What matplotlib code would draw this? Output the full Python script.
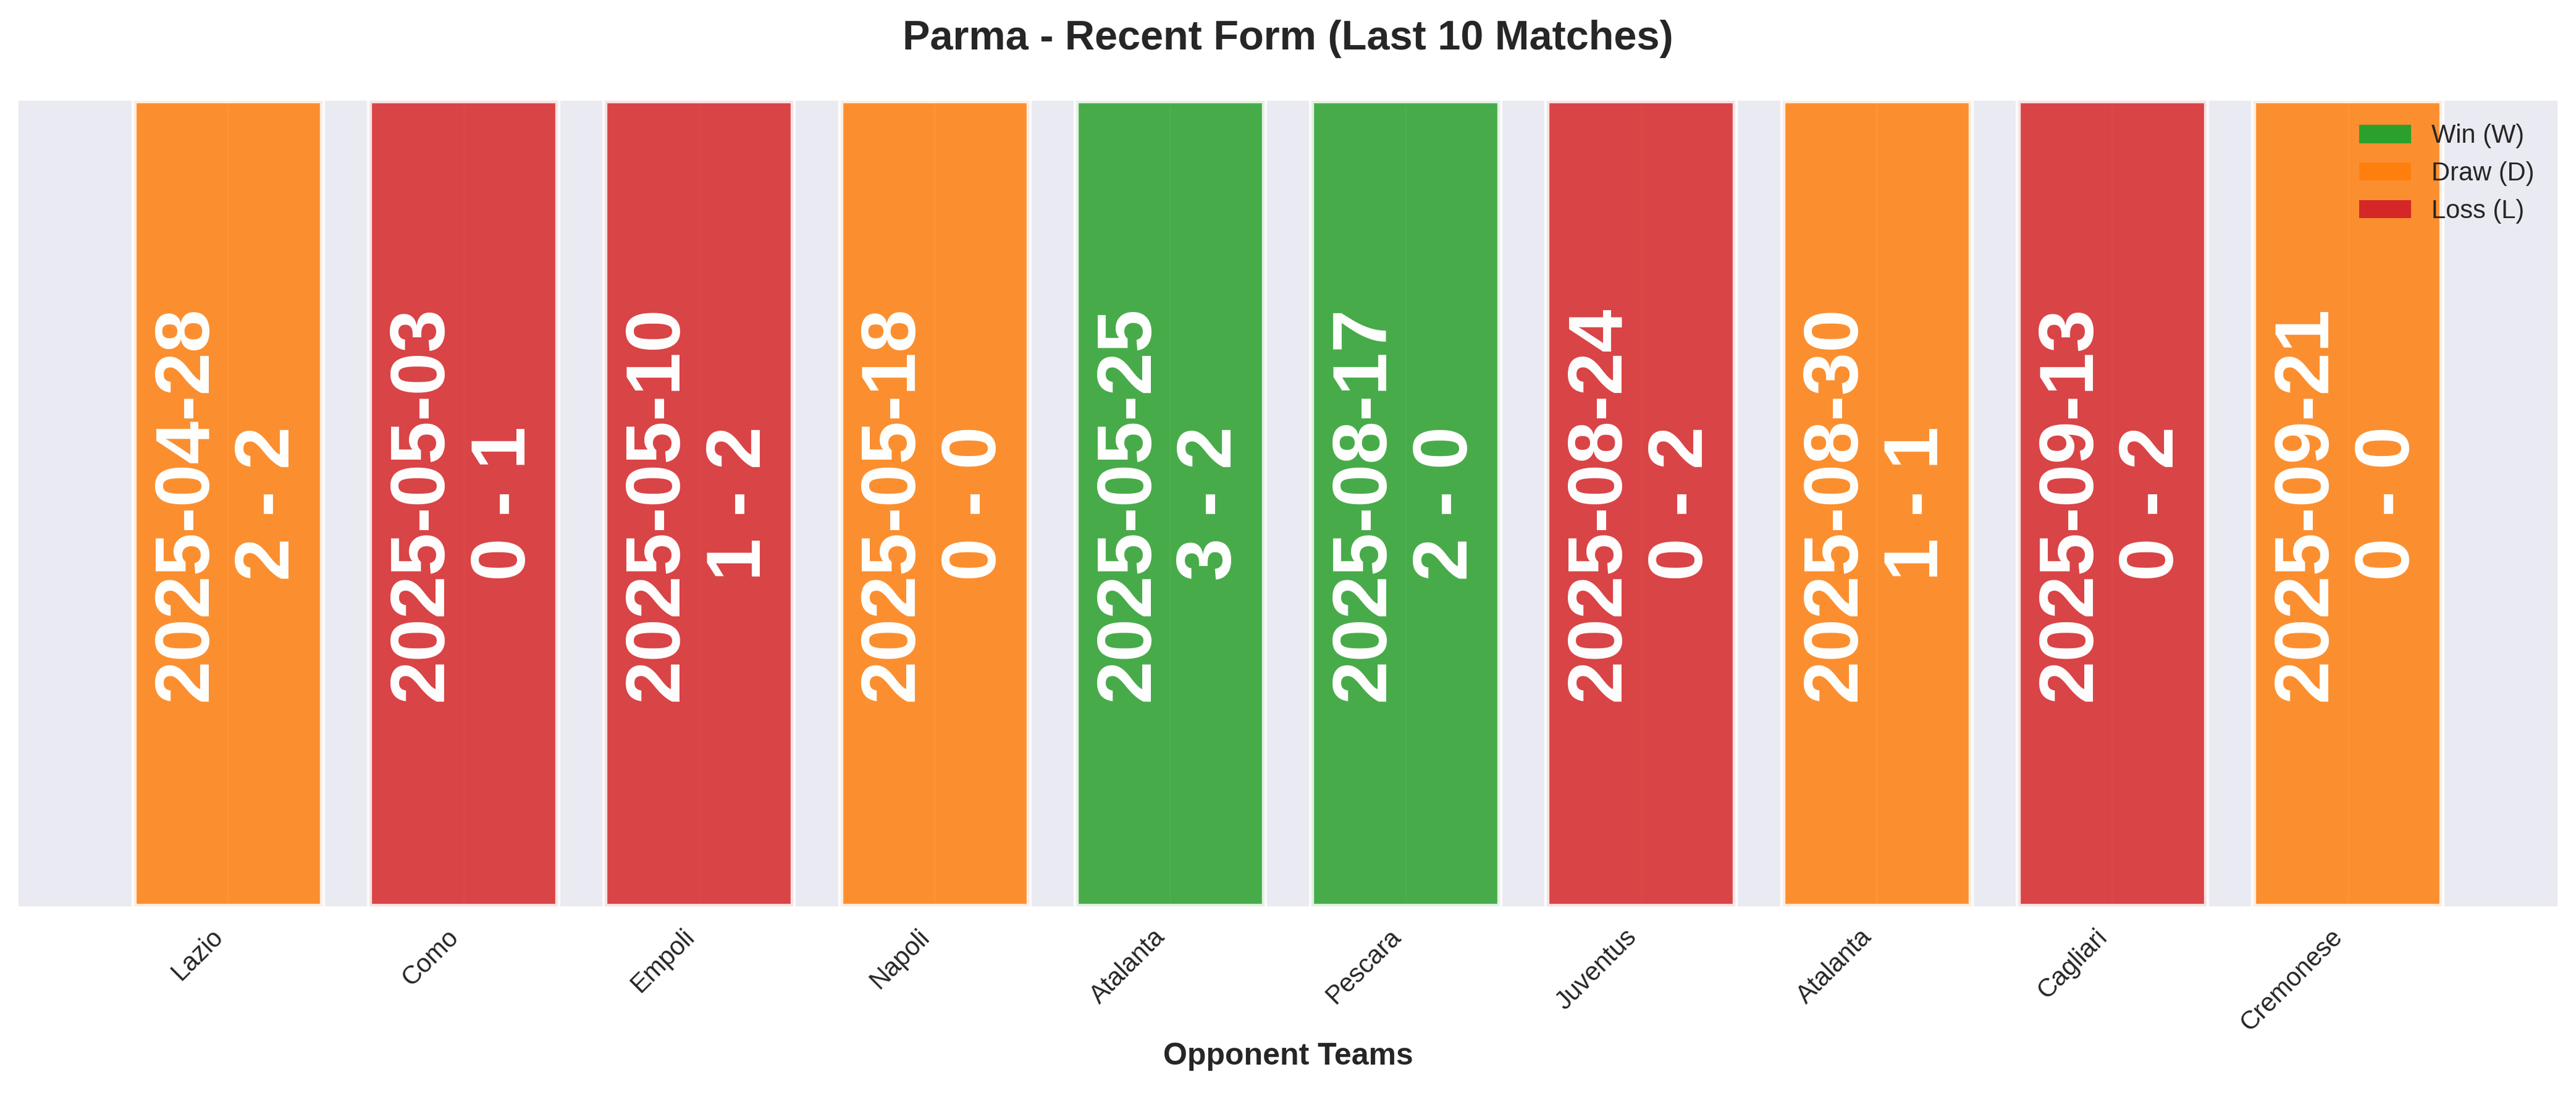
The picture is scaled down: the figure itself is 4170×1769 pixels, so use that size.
import matplotlib
matplotlib.use("Agg")
import matplotlib.pyplot as plt
from matplotlib.patches import Patch

# ---- data ----
opponents = ["Lazio", "Como", "Empoli", "Napoli", "Atalanta",
             "Pescara", "Juventus", "Atalanta", "Cagliari", "Cremonese"]
dates = ["2025-04-28", "2025-05-03", "2025-05-10", "2025-05-18", "2025-05-25",
         "2025-08-17", "2025-08-24", "2025-08-30", "2025-09-13", "2025-09-21"]
scores = ["2 - 2", "0 - 1", "1 - 2", "0 - 0", "3 - 2",
          "2 - 0", "0 - 2", "1 - 1", "0 - 2", "0 - 0"]
results = ["D", "L", "L", "D", "W", "W", "L", "D", "L", "D"]
result_colors = {"W": "#2ca02c", "D": "#ff7f0e", "L": "#d62728"}
legend_labels = {"W": "Win (W)", "D": "Draw (D)", "L": "Loss (L)"}

plt.style.use("seaborn-v0_8-darkgrid")
plt.rcParams["font.family"] = ["Liberation Sans", "DejaVu Sans"]

fig = plt.figure(figsize=(4170 / 300, 1769 / 300), dpi=300)
W, H = 4170, 1769
ax = fig.add_axes([30 / W, (H - 1467) / H, (4140 - 30) / W, (1467 - 163) / H])

x = list(range(len(opponents)))
colors = [result_colors[r] for r in results]
ax.bar(x, [1] * len(x), width=0.8, color=colors, alpha=0.85,
       edgecolor="white", linewidth=2)

for i in x:
    ax.text(i, 0.5, f"{dates[i]}\n{scores[i]}", rotation=90,
            ha="center", va="center", color="white",
            fontsize=30, fontweight="bold")

ax.set_ylim(0, 1)
ax.set_yticks([])
ax.set_xticks(x)
ax.set_xticklabels(opponents, rotation=45, ha="right", fontsize=10)
ax.tick_params(axis="x", length=0, pad=7)
ax.set_xlabel("Opponent Teams", fontsize=12, fontweight="bold", labelpad=2.5)
ax.set_title("Parma - Recent Form (Last 10 Matches)", fontsize=16,
             fontweight="bold", pad=20)

handles = [Patch(facecolor=result_colors[k], label=legend_labels[k]) for k in ["W", "D", "L"]]
ax.legend(handles=handles, loc="upper right", frameon=False, fontsize=10)

fig.savefig("out.png", dpi=300)
